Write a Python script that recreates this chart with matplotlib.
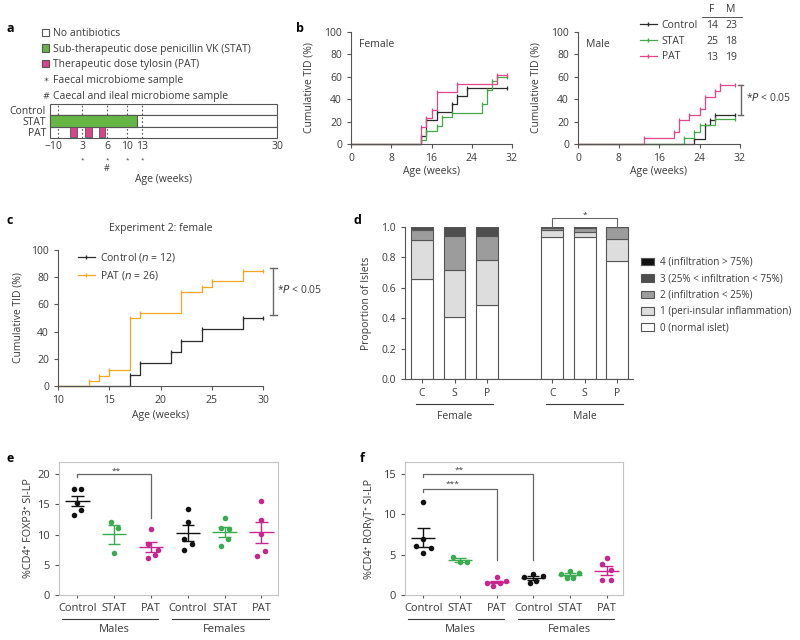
import numpy as np
import matplotlib
matplotlib.use('Agg')  # no UI backend
import matplotlib.pyplot as plt
from matplotlib.patches import Patch
from matplotlib.lines import Line2D

plt.rcParams['font.family'] = ['Open Sans', 'DejaVu Sans']
plt.rcParams['font.size'] = 7.5
plt.rcParams['text.color'] = '#3a3a3a'
plt.rcParams['axes.labelcolor'] = '#3a3a3a'
plt.rcParams['xtick.labelcolor'] = '#3a3a3a'
plt.rcParams['ytick.labelcolor'] = '#3a3a3a'
plt.rcParams['axes.edgecolor'] = '#555555'
plt.rcParams['xtick.color'] = '#555555'
plt.rcParams['ytick.color'] = '#555555'
plt.rcParams['axes.linewidth'] = 0.8
plt.rcParams['xtick.major.width'] = 0.8
plt.rcParams['ytick.major.width'] = 0.8
plt.rcParams['xtick.major.size'] = 3
plt.rcParams['ytick.major.size'] = 3

# ---------------- data ----------------
# a: schedule (weeks)
sched_ticks = [-1, 0, 3, 6, 10, 13, 30]
sched_labels = ['\u22121', '0', '3', '6', '10', '13', '30']
sample_weeks = [3, 6, 10, 13]
caecal_weeks = [6]
stat_course = (-1, 12)
pat_pulses = [(1.5, 2.4), (3.4, 4.2), (5.0, 5.8)]
rows_a = ['Control', 'STAT', 'PAT']

# b: cumulative T1D, experiment 1
groups_b = ['Control', 'STAT', 'PAT']
n_female = [14, 25, 13]
n_male = [23, 18, 19]
fem_t = [[14, 15, 17, 20, 21, 23],
         [14, 15, 17, 18, 20, 26, 27, 28, 29],
         [14, 15, 16, 17, 21, 29]]
fem_v = [[7.1, 21.4, 28.6, 35.7, 42.9, 50.0],
         [4, 12, 16, 24, 28, 36, 48, 56, 60],
         [15.4, 23.1, 30.8, 46.2, 53.8, 61.5]]
male_t = [[23, 25, 26, 27],
          [21, 23, 24, 27],
          [13, 19, 20, 22, 24, 25, 27, 28]]
male_v = [[4.3, 17.4, 21.7, 26.1],
          [5.6, 11.1, 16.7, 22.2],
          [5.3, 10.5, 21.1, 26.3, 31.6, 42.1, 47.4, 52.6]]
end_b = 31

# c: experiment 2, female
c_labels = ['Control (${\\it n}$ = 12)', 'PAT (${\\it n}$ = 26)']
c_t = [[17, 18, 21, 22, 24, 28],
       [13, 14, 15, 17, 18, 22, 24, 25, 28]]
c_v = [[8.3, 16.7, 25, 33.3, 41.7, 50],
       [3.8, 7.7, 11.5, 50, 53.8, 69.2, 73.1, 76.9, 84.6]]
end_c = 30

# d: insulitis scores
d_cats = ['C', 'S', 'P', 'C', 'S', 'P']
d_sex = ['Female', 'Male']
grade0 = [0.655, 0.41, 0.486, 0.935, 0.935, 0.774]
grade1 = [0.262, 0.304, 0.294, 0.045, 0.031, 0.147]
grade2 = [0.062, 0.224, 0.158, 0.015, 0.030, 0.079]
grade3 = [0.021, 0.062, 0.062, 0.005, 0.004, 0.0]
grade4 = [0.0, 0.0, 0.0, 0.0, 0.0, 0.0]
grade_labels = ['0 (normal islet)', '1 (peri-insular inflammation)',
                '2 (infiltration < 25%)', '3 (25% < infiltration < 75%)',
                '4 (infiltration > 75%)']

# e/f: lamina propria T cells
ef_cats = ['Control', 'STAT', 'PAT', 'Control', 'STAT', 'PAT']
e_vals = [[17.5, 17.5, 15.3, 13.3, 14.0],
          [12.1, 11.1, 7.0],
          [10.9, 8.4, 7.5, 6.6, 6.2],
          [14.2, 12.0, 9.3, 8.4, 7.4],
          [12.8, 11.1, 10.9, 9.3, 8.1],
          [15.5, 12.4, 10.1, 6.5, 7.2]]
f_vals = [[11.5, 7.0, 6.1, 5.8, 5.2],
          [4.75, 4.13, 4.13],
          [2.19, 1.53, 1.16, 1.53, 1.69],
          [2.6, 2.27, 2.36, 1.78, 1.53],
          [3.0, 2.6, 2.77, 2.1, 2.1],
          [4.55, 3.8, 3.1, 1.86, 1.86]]

# ---------------- layout / style ----------------
W, H = 800, 640
sched_pos = [0, 8, 32, 57, 77, 92, 227]   # schematic spacing of the timeline
e_jit = [[-0.1, 0.11, 0.0, -0.1, 0.11], [-0.09, 0.11, 0.0],
         [0.0, -0.09, 0.2, 0.11, -0.09], [0.0, 0.0, -0.11, 0.11, -0.11],
         [0.0, -0.11, 0.12, 0.09, -0.11], [0.0, 0.0, 0.0, -0.11, 0.11]]
f_jit = [[0.0, 0.0, -0.19, 0.2, 0.0], [-0.19, 0.0, 0.2],
         [0.0, -0.26, -0.09, 0.09, 0.25], [0.0, -0.25, 0.26, 0.07, -0.08],
         [0.0, -0.25, 0.24, -0.09, 0.09], [0.0, -0.11, 0.11, -0.11, 0.11]]
d_pos = [0, 1, 2, 4, 5, 6]
ef_pos = [0, 1, 2, 3, 4, 5]

INK = '#3a3a3a'
EDGE = '#555555'
C_CTRL = '#2b2b2b'
C_STAT = '#45a84a'
C_PAT = '#e2478c'
C_PAT2 = '#f5a623'
A_GREEN = '#66b646'
A_PINK = '#d8438a'
DOT = ['#111111', '#3aab50', '#c8268f'] * 2
GREYS = ['white', '#dddddd', '#9c9c9c', '#4f4f4f', '#111111']


def px_rect(l, t, r, b):
    return [l / W, 1 - b / H, (r - l) / W, (b - t) / H]


def ftext(x, y, s, **kw):
    fig.text(x / W, 1 - y / H, s, **kw)


def km(ax, t, v, color, start, end):
    x = np.r_[start, t, end]
    y = np.r_[0, v, v[-1]]
    ax.step(x, y, where='post', color=color, lw=0.9, clip_on=False)
    ax.plot(np.r_[t, end], np.r_[v, v[-1]], ls='none', marker='|', ms=3.5,
            mew=0.9, color=color, clip_on=False)


def l_spines(ax):
    ax.spines['top'].set_visible(False)
    ax.spines['right'].set_visible(False)


fig = plt.figure(figsize=(8, 6.4), dpi=100)

# ---------------- a ----------------
ax = fig.add_axes(px_rect(50, 104, 277, 138))
ax.set_xscale('function', functions=(lambda x: np.interp(x, sched_ticks, sched_pos),
                                      lambda y: np.interp(y, sched_pos, sched_ticks)))
ax.set_xlim(sched_ticks[0], sched_ticks[-1])
ax.set_ylim(2.5, -0.5)
ax.barh(range(3), sched_ticks[-1] - sched_ticks[0], left=sched_ticks[0], height=1,
        color='white', edgecolor=EDGE, lw=0.8, zorder=0.5, clip_on=False)
for w in sched_ticks[1:-1]:
    ax.axvline(w, ls=(0, (1.5, 2)), color=EDGE, lw=0.8, zorder=1)
ax.barh(1, stat_course[1] - stat_course[0], left=stat_course[0], height=1,
        color=A_GREEN, edgecolor=EDGE, lw=0.8, zorder=2, clip_on=False)
for s, e in pat_pulses:
    ax.barh(2, e - s, left=s, height=0.9, color=A_PINK, edgecolor=EDGE, lw=0.6, zorder=2)
for sp in ax.spines.values():
    sp.set_visible(False)
ax.set_xticks(sched_ticks, sched_labels)
ax.xaxis.set_minor_locator(matplotlib.ticker.NullLocator())
ax.set_yticks(range(3), rows_a)
ax.tick_params(length=0, labelsize=7.5)
ax.tick_params(axis='x', pad=2)
ax.tick_params(axis='y', pad=3)
tr = ax.get_xaxis_transform()
for w in sample_weeks:
    ax.text(w, -0.66, '*', transform=tr, ha='center', va='center', fontsize=4.5, color=INK)
for w in caecal_weeks:
    ax.text(w, -0.9, '#', transform=tr, ha='center', va='center', fontsize=6.5, color=INK)
ax.set_xlabel('Age (weeks)', fontsize=7.5)
ax.xaxis.set_label_coords(0.5, -1.05)
leg_a = [Patch(facecolor='white', edgecolor=EDGE, lw=0.8),
         Patch(facecolor=A_GREEN, edgecolor=EDGE, lw=0.8),
         Patch(facecolor=A_PINK, edgecolor=EDGE, lw=0.8),
         Line2D([], [], ls='none', marker='$*$', ms=3, mew=0, color=INK),
         Line2D([], [], ls='none', marker='$\\#$', ms=4.5, mew=0, color=INK)]
fig.legend(leg_a, ['No antibiotics', 'Sub-therapeutic dose penicillin VK (STAT)',
                   'Therapeutic dose tylosin (PAT)', 'Faecal microbiome sample',
                   'Caecal and ileal microbiome sample'],
           loc='upper left', bbox_to_anchor=(42 / W, 1 - 28 / H), frameon=False,
           fontsize=7.5, handlelength=0.7, handleheight=0.7, handletextpad=0.4,
           labelspacing=0.45, borderpad=0, borderaxespad=0)

# ---------------- b ----------------
cols_b = [C_CTRL, C_STAT, C_PAT]
for rect, ts, vs, name in [((351, 32, 512, 144), fem_t, fem_v, 'Female'),
                           ((578, 32, 740, 144), male_t, male_v, 'Male')]:
    ax = fig.add_axes(px_rect(*rect))
    for t, v, c in zip(ts, vs, cols_b):
        km(ax, t, v, c, 0, end_b)
    ax.set_xlim(0, 32)
    ax.set_ylim(0, 100)
    ax.set_xticks(range(0, 33, 8))
    ax.set_yticks(range(0, 101, 20))
    l_spines(ax)
    ax.text(0.05, 0.89, name, transform=ax.transAxes, va='center', fontsize=7.5)
    ax.set_xlabel('Age (weeks)')
    ax.set_ylabel('Cumulative TID (%)')
    ax.xaxis.set_label_coords(0.5, -0.2)
    ax.yaxis.set_label_coords(-0.225, 0.5)
    if name == 'Male':
        bx = 32.1
        ax.plot([bx, bx], [male_v[2][-1], male_v[0][-1]], color='#666666', lw=1, clip_on=False)
        for yy in [male_v[2][-1], male_v[0][-1]]:
            ax.plot([bx - 0.4, bx + 0.4], [yy, yy], color='#666666', lw=1, clip_on=False)
        ax.text(bx + 1.1, 41, '*${\\it P}$ < 0.05', va='center', fontsize=7.5)
        ax.legend([Line2D([], [], color=c, lw=0.9, marker='|', ms=3.5) for c in cols_b],
                  groups_b, loc='upper left', bbox_to_anchor=(640 / W, 1 - 20 / H),
                  bbox_transform=fig.transFigure, frameon=False, fontsize=7.5,
                  handlelength=1.6, handletextpad=0.5, labelspacing=0.45,
                  borderpad=0, borderaxespad=0)

ftext(712, 10, 'F', ha='center', va='center')
ftext(731, 10, 'M', ha='center', va='center')
fig.add_artist(Line2D([702 / W, 742 / W], [1 - 17 / H, 1 - 17 / H], color=INK, lw=0.6))
for i, (nf, nm) in enumerate(zip(n_female, n_male)):
    ftext(712, 26 + 15.5 * i, str(nf), ha='center', va='center')
    ftext(731, 26 + 15.5 * i, str(nm), ha='center', va='center')

# ---------------- c ----------------
ax = fig.add_axes(px_rect(58, 250, 263, 386))
for t, v, c in zip(c_t, c_v, [C_CTRL, C_PAT2]):
    km(ax, t, v, c, 10, end_c)
ax.set_xlim(10, 30)
ax.set_ylim(0, 100)
ax.set_xticks(range(10, 31, 5))
ax.set_yticks(range(0, 101, 20))
l_spines(ax)
ax.set_xlabel('Age (weeks)')
ax.set_ylabel('Cumulative TID (%)')
ax.xaxis.set_label_coords(0.5, -0.18)
ax.yaxis.set_label_coords(-0.17, 0.5)
ax.set_title('Experiment 2: female', fontsize=7.5, pad=14)
bx = 31
top_c, bot_c = 87, 52
ax.plot([bx, bx], [bot_c, top_c], color='#666666', lw=1, clip_on=False)
for yy in [bot_c, top_c]:
    ax.plot([bx - 0.35, bx + 0.35], [yy, yy], color='#666666', lw=1, clip_on=False)
ax.text(bx + 0.35, 70.5, '*${\\it P}$ < 0.05', va='center', fontsize=7.5)
ax.legend([Line2D([], [], color=c, lw=0.9, marker='|', ms=3.5) for c in [C_CTRL, C_PAT2]],
          c_labels, loc='upper left', bbox_to_anchor=(78 / W, 1 - 251 / H),
          bbox_transform=fig.transFigure, frameon=False, fontsize=7.5,
          handlelength=1.6, handletextpad=0.5, labelspacing=0.45,
          borderpad=0, borderaxespad=0)

# ---------------- d ----------------
ax = fig.add_axes(px_rect(405, 227, 633, 379))
bottom = np.zeros(len(d_pos))
for g, col in zip([grade0, grade1, grade2, grade3, grade4], GREYS):
    ax.bar(d_pos, g, bottom=bottom, width=0.67, color=col, edgecolor=EDGE, lw=0.8)
    bottom += np.array(g)
ax.set_xlim(-0.52, 6.48)
ax.set_ylim(0, 1.0)
ax.set_yticks(np.arange(0, 1.01, 0.2), [f'{v:.1f}' for v in np.arange(0, 1.01, 0.2)])
ax.set_xticks(d_pos, d_cats)
l_spines(ax)
ax.set_ylabel('Proportion of Islets')
ax.yaxis.set_label_coords(-0.145, 0.5)
tr = ax.get_xaxis_transform()
for k, sex in enumerate(d_sex):
    x0, x1 = d_pos[3 * k] - 0.18, d_pos[3 * k + 2] + 0.18
    ax.plot([x0, x1], [-0.164, -0.164], transform=tr, color=INK, lw=0.8, clip_on=False)
    ax.text(d_pos[3 * k + 1], -0.245, sex, transform=tr, ha='center', va='center')
ax.plot([d_pos[3], d_pos[3], d_pos[5], d_pos[5]], [1.0, 1.056, 1.056, 1.0],
        color='#666666', lw=0.8, clip_on=False)
ax.text(d_pos[4], 1.075, '*', ha='center', va='center', fontsize=6)
fig.legend([Patch(facecolor=c, edgecolor=EDGE, lw=0.8) for c in GREYS[::-1]],
           grade_labels[::-1], loc='upper left', bbox_to_anchor=(641 / W, 1 - 257 / H),
           frameon=False, fontsize=7.1, handlelength=1.3, handleheight=0.8,
           handletextpad=0.6, labelspacing=0.55, borderpad=0, borderaxespad=0)

# ---------------- e / f ----------------
for rect, vals, jit, ylim, yt, ylab, ly in [
        ((59, 462, 278, 595), e_vals, e_jit, 22, range(0, 21, 5),
         '%CD4\u207a FOXP3\u207a SI-LP', -0.114),
        ((405, 462, 623, 595), f_vals, f_jit, 16.5, range(0, 16, 5),
         '%CD4\u207a ROR\u03b3T\u207a SI-LP', -0.138)]:
    ax = fig.add_axes(px_rect(*rect))
    for p, v, j, c in zip(ef_pos, vals, jit, DOT):
        v = np.array(v)
        m = v.mean()
        s = v.std(ddof=1) / np.sqrt(len(v))
        ax.scatter(p + np.array(j), v, s=16, color=c, zorder=3, linewidths=0)
        ax.hlines(m, p - 0.33, p + 0.33, color=c, lw=1.0, zorder=4)
        ax.vlines(p, m - s, m + s, color=c, lw=1.0, zorder=4)
        ax.hlines([m - s, m + s], p - 0.17, p + 0.17, color=c, lw=1.0, zorder=4)
    ax.set_xlim(-0.5, 5.45)
    ax.set_ylim(0, ylim)
    ax.set_yticks(yt)
    ax.set_xticks(ef_pos, ef_cats)
    ax.tick_params(axis='x', labelsize=8, length=2, pad=4)
    ax.tick_params(axis='y', labelsize=8, length=3)
    for sp in ax.spines.values():
        sp.set_color('#c4c4c4')
    ax.set_ylabel(ylab, fontsize=7.8)
    ax.yaxis.set_label_coords(ly, 0.5)
    tr = ax.get_xaxis_transform()
    for k, sex in enumerate(['Males', 'Females']):
        x0, x1 = ef_pos[3 * k] - 0.42, ef_pos[3 * k + 2] + 0.2
        ax.plot([x0, x1], [-0.18, -0.18], transform=tr, color=INK, lw=0.8, clip_on=False)
        ax.text(ef_pos[3 * k + 1], -0.256, sex, transform=tr, ha='center', va='center',
                fontsize=8)
    if vals is e_vals:
        ax.plot([0, 0, 2, 2], [19.5, 20, 20, 12.8], color='#666666', lw=0.9)
        ax.text(1.05, 20.5, '**', ha='center', va='center', fontsize=6)
    else:
        ax.plot([0, 0, 3, 3], [14.6, 15, 15, 4.4], color='#666666', lw=0.9)
        ax.plot([0, 0, 2, 2], [12.8, 13.2, 13.2, 4.4], color='#666666', lw=0.9)
        ax.text(0.98, 15.5, '**', ha='center', va='center', fontsize=6)
        ax.text(0.8, 13.7, '***', ha='center', va='center', fontsize=6)

# panel letters
for s, x, y in [('a', 10, 29), ('b', 300, 29), ('c', 10, 220), ('d', 357, 220),
                ('e', 10, 459), ('f', 362, 459)]:
    ftext(x, y, s, fontweight='bold', fontsize=9, color='black', ha='center', va='center')

fig.savefig('out.png', dpi=100)
